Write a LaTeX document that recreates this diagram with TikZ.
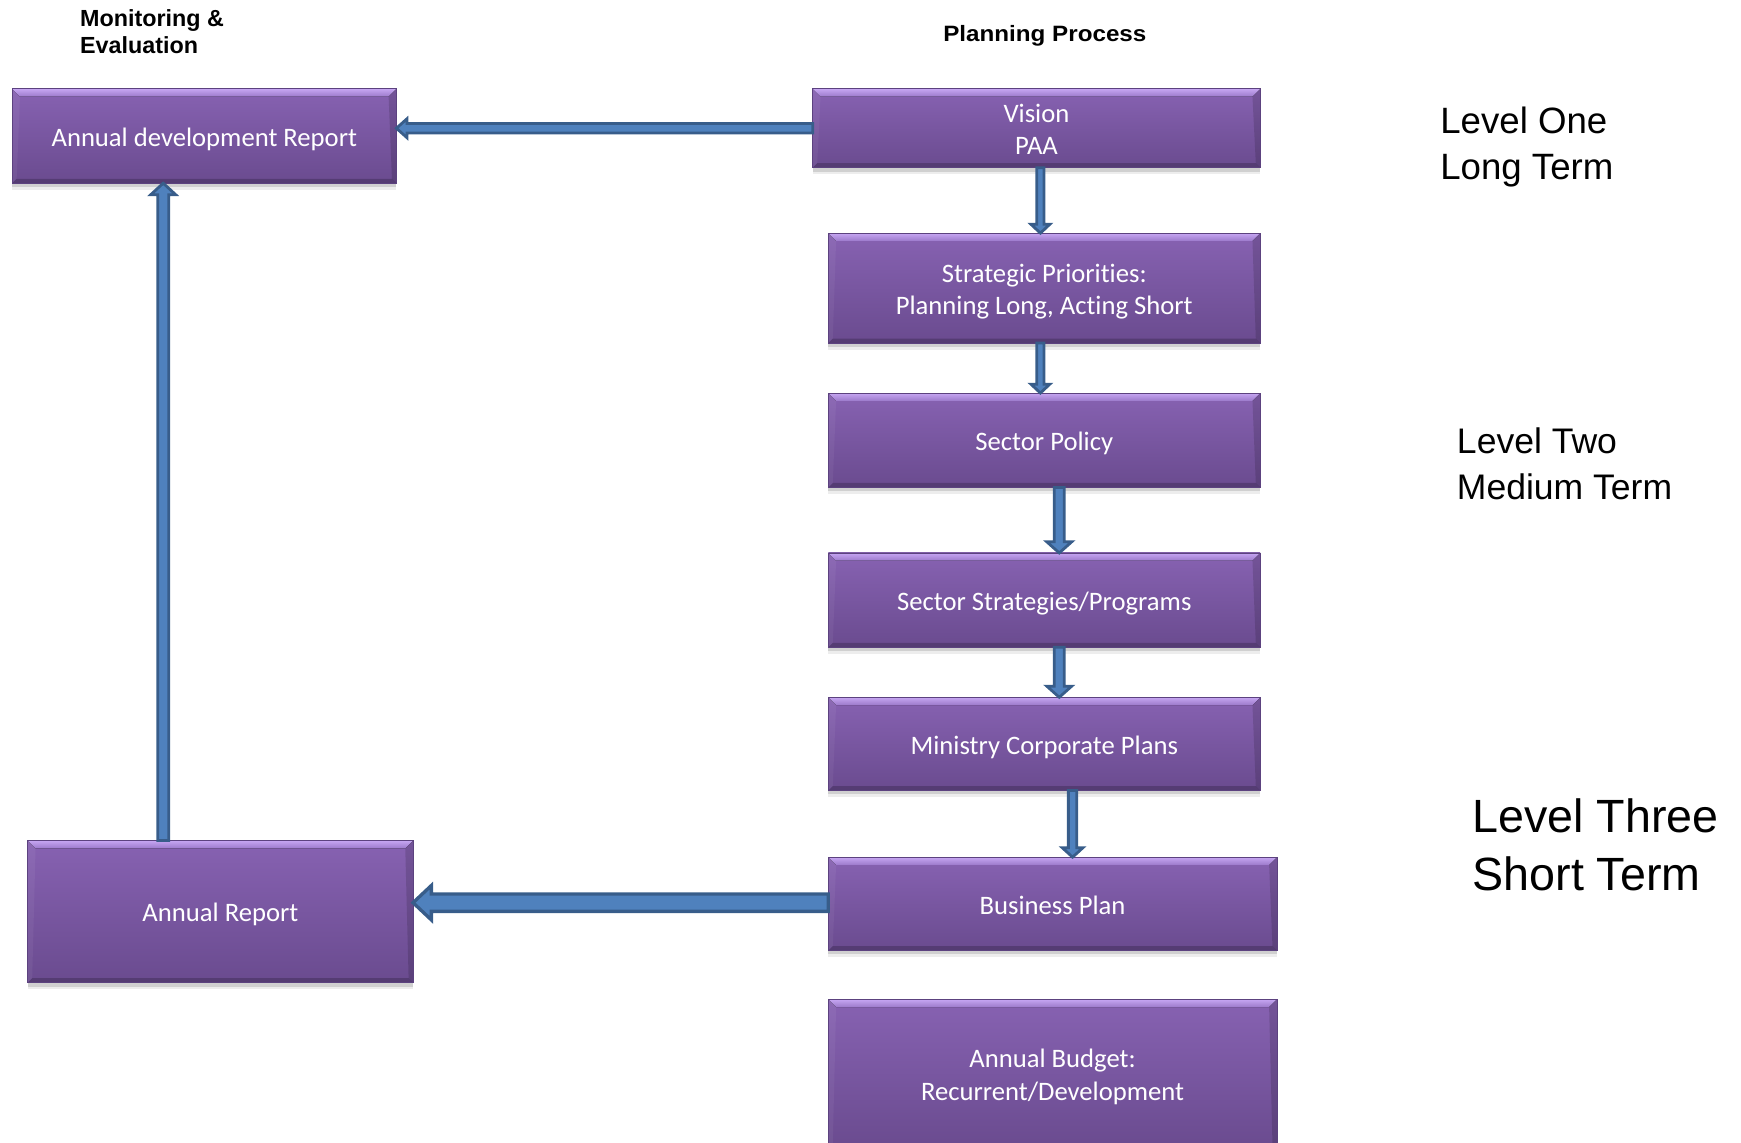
\documentclass[tikz,border=0pt]{standalone}
\usepackage{fontspec}
\newfontfamily\boxfont{Carlito}[Ligatures=NoCommon]
\newfontfamily\arialfont{Liberation Sans}
\usetikzlibrary{calc,shadows}
\definecolor{pTop}{HTML}{8762B2}
\definecolor{pBot}{HTML}{6A4B8F}
\definecolor{pEdge}{HTML}{5C427F}
\definecolor{bevA}{HTML}{C6A6F2}
\definecolor{bevB}{HTML}{9C7ACB}
\definecolor{arFill}{HTML}{4F81BD}
\definecolor{arLine}{HTML}{385D8A}
\tikzset{
  pbox/.style={rectangle, inner sep=0pt, outer sep=0pt,
    top color=pTop, bottom color=pBot, draw=pEdge, line width=0.6pt,
    text=white, align=center, font=\boxfont\fontsize{24}{29}\selectfont,
    text height=18.5pt, text depth=0pt,
    drop shadow={shadow xshift=0pt, shadow yshift=-6pt, fill=black, opacity=0.07},
    drop shadow={shadow xshift=0pt, shadow yshift=-3.5pt, fill=black, opacity=0.12},
    path picture={
      \coordinate (NW) at (path picture bounding box.north west);
      \coordinate (NE) at (path picture bounding box.north east);
      \coordinate (SW) at (path picture bounding box.south west);
      \coordinate (SE) at (path picture bounding box.south east);
      \fill[top color=bevA, bottom color=bevB] (NW) -- (NE) -- ($(NE)+(-7,7)$) -- ($(NW)+(7,7)$) -- cycle;
      \fill[black, opacity=0.2] (SW) -- (SE) -- ($(SE)+(-4,-4)$) -- ($(SW)+(4,-4)$) -- cycle;
      \fill[white, opacity=0.05] (NW) -- ($(NW)+(7,7)$) -- ($(SW)+(4,-4)$) -- (SW) -- cycle;
      \fill[black, opacity=0.14] (NE) -- ($(NE)+(-7,7)$) -- ($(SE)+(-4,-4)$) -- (SE) -- cycle;
    }},
  twoline/.style={text height=47.5pt, text depth=0pt},
  blk/.style={fill=arFill, draw=arLine, line width=2.5pt, line join=miter},
  bigblk/.style={fill=arFill, draw=arLine, line width=3pt, line join=miter},
  hdr/.style={font=\arialfont\bfseries\fontsize{21}{25}\selectfont, inner sep=0pt, align=left},
  lvl/.style={font=\arialfont\fontsize{32}{41}\selectfont, inner sep=0pt, align=left, anchor=west},
}
\newcommand\arrdown[6][blk]{%
  \draw[#1] ($(#2)+(-#4,0)$) -- ($(#3)+(-#4,-#6)$) -- ($(#3)+(-#5,-#6)$) -- (#3)
    -- ($(#3)+(#5,-#6)$) -- ($(#3)+(#4,-#6)$) -- ($(#2)+(#4,0)$) -- cycle;}
\newcommand\arrup[6][blk]{%
  \draw[#1] ($(#2)+(-#4,0)$) -- ($(#3)+(-#4,#6)$) -- ($(#3)+(-#5,#6)$) -- (#3)
    -- ($(#3)+(#5,#6)$) -- ($(#3)+(#4,#6)$) -- ($(#2)+(#4,0)$) -- cycle;}
\newcommand\arrleft[6][blk]{%
  \draw[#1] ($(#2)+(0,-#4)$) -- ($(#3)+(#6,-#4)$) -- ($(#3)+(#6,-#5)$) -- (#3)
    -- ($(#3)+(#6,#5)$) -- ($(#3)+(#6,#4)$) -- ($(#2)+(0,#4)$) -- cycle;}
\begin{document}
\begin{tikzpicture}[x=1pt,y=-1pt]
\useasboundingbox (0,0) rectangle (1568,1029.4);
\clip (0,0) rectangle (1568,1029.4);

% headers
\node[hdr, anchor=west] (hme) at (72,28.5) {Monitoring \&\\Evaluation};
\node[hdr, font=\arialfont\bfseries\fontsize{20}{24}\selectfont, xscale=1.09] (hpp) at (941,32.5) {Planning Process};

% level labels
\node[lvl, font=\arialfont\fontsize{33}{41}\selectfont] (l1) at (1297,132.5) {Level One\\Long Term};
\node[lvl] (l2) at (1312,417.5) {Level Two\\Medium Term};
\node[lvl, font=\arialfont\fontsize{42}{52}\selectfont] (l3) at (1326,761) {Level Three\\Short Term};

% boxes
\node[pbox, minimum width=346pt, minimum height=85pt] (adr) at (184,122.5) {Annual development Report};
\node[pbox, twoline, minimum width=403pt, minimum height=71pt] (vis) at (933.5,115.5) {Vision\\PAA};
\node[pbox, twoline, minimum width=389pt, minimum height=99pt] (sp) at (940.5,259.5) {Strategic Priorities:\\Planning Long, Acting Short};
\node[pbox, minimum width=389pt, minimum height=85pt] (pol) at (940.5,396.5) {Sector Policy};
\node[pbox, minimum width=389pt, minimum height=85pt] (str) at (940.5,540.5) {Sector Strategies/Programs};
\node[pbox, minimum width=389pt, minimum height=84pt] (min) at (940.5,670) {Ministry Corporate Plans};
\node[pbox, minimum width=404pt, minimum height=84pt] (bus) at (948,814) {Business Plan};
\node[pbox, minimum width=347pt, minimum height=128pt] (ar) at (198.5,821) {Annual Report};
\node[pbox, twoline, minimum width=404pt, minimum height=134pt] (bud) at (948,967) {Annual Budget:\\Recurrent/Development};

% connector points
\coordinate (a1s) at ($(vis.south)+(3.5,0)$);
\coordinate (a1e) at (a1s |- sp.north);
\coordinate (a2s) at ($(sp.south)+(-3.5,0)$);
\coordinate (a2e) at (a2s |- pol.north);
\coordinate (a3s) at ($(pol.south)+(13.5,0)$);
\coordinate (a3e) at (a3s |- str.north);
\coordinate (a4s) at ($(str.south)+(13.5,0)$);
\coordinate (a4e) at (a4s |- min.north);
\coordinate (a5s) at ($(min.south)+(25.5,0)$);
\coordinate (a5e) at (a5s |- bus.north);
\coordinate (a6s) at (vis.west);
\coordinate (a6e) at (vis.west -| adr.east);
\coordinate (a7s) at ($(bus.west)+(0,-1)$);
\coordinate (a7e) at (a7s -| ar.east);
\coordinate (a8s) at ($(ar.north)+(-51.5,0)$);
\coordinate (a8e) at (a8s |- adr.south);

% connectors
\arrdown{a1s}{a1e}{3.3}{8.5}{8}
\arrdown{a2s}{a2e}{3.3}{8.5}{8}
\arrdown{a3s}{a3e}{4.5}{11.2}{10}
\arrdown{a4s}{a4e}{4.5}{11.2}{10}
\arrdown{a5s}{a5e}{3.8}{9.3}{8.5}
\arrleft{a6s}{a6e}{4.3}{8.5}{9.5}
\arrleft[bigblk]{a7s}{a7e}{7.8}{15.5}{16.5}
\arrup{a8s}{a8e}{4.9}{11.2}{10.3}
\end{tikzpicture}
\end{document}
